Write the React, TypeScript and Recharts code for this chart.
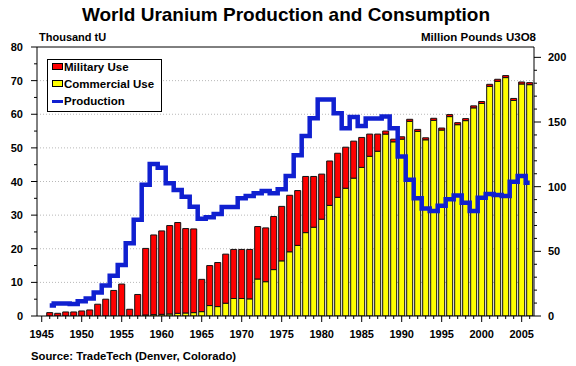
import React from 'react';
import {
  ComposedChart, Bar, Line, XAxis, YAxis, CartesianGrid, ReferenceLine, Legend,
} from 'recharts';

const years = [
  1946, 1947, 1948, 1949, 1950, 1951, 1952, 1953, 1954, 1955,
  1956, 1957, 1958, 1959, 1960, 1961, 1962, 1963, 1964, 1965,
  1966, 1967, 1968, 1969, 1970, 1971, 1972, 1973, 1974, 1975,
  1976, 1977, 1978, 1979, 1980, 1981, 1982, 1983, 1984, 1985,
  1986, 1987, 1988, 1989, 1990, 1991, 1992, 1993, 1994, 1995,
  1996, 1997, 1998, 1999, 2000, 2001, 2002, 2003, 2004, 2005, 2006,
];

// thousand tU
const commercialUse = [
  0, 0, 0, 0, 0, 0, 0, 0, 0, 0,
  0, 0, 0.3, 0.4, 0.5, 0.6, 0.8, 0.9, 1.0, 1.3,
  3.1, 2.8, 3.8, 5.2, 5.2, 5.1, 11.0, 10.2, 13.8, 16.4,
  19.1, 21.0, 24.8, 26.4, 28.8, 32.9, 35.3, 38.0, 41.0, 44.2,
  47.5, 49.0, 54.1, 51.8, 52.6, 57.9, 54.9, 52.4, 58.2, 55.3,
  59.3, 56.9, 58.1, 61.9, 63.2, 68.3, 69.8, 70.9, 64.1, 69.0, 68.8,
];

const militaryUse = [
  1.0, 0.8, 1.2, 1.2, 1.5, 1.8, 3.5, 5.0, 7.6, 9.5,
  2.0, 6.4, 19.8, 23.7, 24.8, 26.3, 27.0, 25.1, 24.9, 9.6,
  11.9, 13.1, 14.6, 14.6, 14.6, 14.7, 15.6, 16.0, 15.8, 16.2,
  16.8, 16.3, 16.7, 15.1, 13.4, 13.2, 13.1, 12.2, 11.0, 8.9,
  6.6, 5.1, 0.9, 0.8, 0.7, 0.6, 0.6, 0.6, 0.6, 0.6,
  0.6, 0.6, 0.6, 0.6, 0.6, 0.6, 0.6, 0.6, 0.6, 0.6, 0.6,
];

const production = [
  3.1, 3.7, 3.7, 3.6, 4.4, 5.2, 7.0, 9.1, 12.0, 15.2,
  21.6, 28.6, 39.0, 45.2, 44.1, 39.5, 37.5, 35.5, 32.5, 28.9,
  29.4, 30.3, 32.4, 32.4, 35.0, 35.7, 36.5, 37.2, 36.5, 37.7,
  41.6, 47.8, 53.5, 58.8, 64.4, 64.4, 60.3, 55.8, 59.2, 56.5,
  58.7, 58.7, 59.3, 55.8, 47.4, 40.5, 35.0, 32.0, 31.2, 32.8,
  34.7, 35.8, 33.7, 31.2, 35.2, 36.3, 36.0, 35.7, 39.9, 41.6, 39.6,
];

const xTicks = [
  1945, 1946, 1947, 1948, 1949, 1950, 1951, 1952, 1953, 1954, 1955, 1956, 1957, 1958, 1959,
  1960, 1961, 1962, 1963, 1964, 1965, 1966, 1967, 1968, 1969, 1970, 1971, 1972, 1973, 1974,
  1975, 1976, 1977, 1978, 1979, 1980, 1981, 1982, 1983, 1984, 1985, 1986, 1987, 1988, 1989,
  1990, 1991, 1992, 1993, 1994, 1995, 1996, 1997, 1998, 1999, 2000, 2001, 2002, 2003, 2004,
  2005, 2006,
];
const leftTicks = [0, 5, 10, 15, 20, 25, 30, 35, 40, 45, 50, 55, 60, 65, 70, 75, 80];
const rightTicks = [0, 10, 20, 30, 40, 50, 60, 70, 80, 90, 100, 110, 120, 130, 140, 150, 160, 170, 180, 190, 200];
const gridValues = [10, 20, 30, 40, 50, 60, 70];

const data = years.map((year, i) => ({
  year,
  commercial: commercialUse[i],
  military: militaryUse[i],
  production: production[i],
}));

const FONT = '"Liberation Sans", Arial, Helvetica, sans-serif';
const tickFont = { fontFamily: FONT, fontWeight: 700, fontSize: 11, fill: '#000' };

const LeftTick = ({ x, y, payload }: any) => {
  const major = payload.value % 10 === 0;
  return (
    <g>
      <line x1={x - (major ? 6 : 3)} x2={x} y1={y} y2={y} stroke="#000" />
      {major && <text x={x - 14} y={y} dy={4} textAnchor="end" style={tickFont}>{payload.value}</text>}
    </g>
  );
};

const RightTick = ({ x, y, payload }: any) => {
  const major = payload.value % 50 === 0;
  return (
    <g>
      <line x1={x} x2={x + (major ? 7 : 3)} y1={y} y2={y} stroke="#000" />
      {major && <text x={x + 14} y={y} dy={4} textAnchor="start" style={tickFont}>{payload.value}</text>}
    </g>
  );
};

const BottomTick = ({ x, y, payload }: any) => {
  const major = payload.value % 5 === 0;
  return (
    <g>
      <line x1={x} x2={x} y1={y} y2={y + (major ? 6 : 3)} stroke="#000" />
      {major && <text x={x} y={y + 22} textAnchor="middle" style={tickFont}>{payload.value}</text>}
    </g>
  );
};

const legendText = { fontFamily: FONT, fontWeight: 700, fontSize: 11.5, fill: '#000' };

const LegendBox = () => (
  <svg width={115} height={53} style={{ display: 'block' }}>
    <rect x={0.5} y={0.5} width={114} height={52} fill="#fff" stroke="#000" />
    <rect x={5.5} y={4.5} width={10} height={6} fill="#ff0000" stroke="#000" />
    <text x={17} y={12} style={legendText}>Military Use</text>
    <rect x={5.5} y={21.5} width={10} height={6} fill="#ffff00" stroke="#000" />
    <text x={17} y={29} style={legendText}>Commercial Use</text>
    <rect x={5} y={41} width={11} height={3} fill="#1020d0" />
    <text x={17} y={46} style={legendText}>Production</text>
  </svg>
);

export default function App() {
  return (
    <div style={{ position: 'absolute', left: 0, top: 0, width: 576, height: 366, background: '#fff' }}>
      <ComposedChart
        width={576}
        height={366}
        data={data}
        margin={{ top: 47, right: 0, bottom: 0, left: 0 }}
      >
        <CartesianGrid
          yAxisId="left"
          vertical={false}
          horizontalValues={gridValues}
          stroke="#b8b8b8"
          strokeDasharray="1 2"
        />
        <XAxis
          dataKey="year"
          type="number"
          domain={[1944.41, 2006.54]}
          allowDataOverflow
          ticks={xTicks}
          interval={0}
          height={50}
          tickSize={0}
          tickMargin={0}
          tickLine={false}
          axisLine={{ stroke: '#000' }}
          tick={<BottomTick />}
        />
        <YAxis
          yAxisId="left"
          domain={[0, 80]}
          allowDataOverflow
          ticks={leftTicks}
          interval={0}
          width={37}
          tickSize={0}
          tickMargin={0}
          tickLine={false}
          axisLine={{ stroke: '#000' }}
          tick={<LeftTick />}
        />
        <YAxis
          yAxisId="right"
          orientation="right"
          type="number"
          domain={[0, 208]}
          allowDataOverflow
          ticks={rightTicks}
          interval={0}
          width={42}
          tickSize={0}
          tickMargin={0}
          tickLine={false}
          axisLine={{ stroke: '#000' }}
          tick={<RightTick />}
        />
        <ReferenceLine yAxisId="left" y={80} stroke="#000" />
        <Bar yAxisId="left" dataKey="commercial" stackId="use" fill="#ffff00" stroke="#111" strokeWidth={1} barSize={6} isAnimationActive={false} />
        <Bar yAxisId="left" dataKey="military" stackId="use" fill="#ff0000" stroke="#111" strokeWidth={1} barSize={6} isAnimationActive={false} />
        <Line yAxisId="left" type="step" dataKey="production" stroke="#1020d0" strokeWidth={4.5} dot={false} isAnimationActive={false} />
        <Legend
          layout="horizontal"
          verticalAlign="middle"
          align="center"
          content={<LegendBox />}
          wrapperStyle={{ position: 'absolute', left: 47, top: 59, width: 115, height: 53 }}
        />
      </ComposedChart>
      <svg width={576} height={366} style={{ position: 'absolute', left: 0, top: 0, pointerEvents: 'none' }}>
        <text x={286} y={21} textAnchor="middle" style={{ fontFamily: FONT, fontWeight: 700, fontSize: 19 }}>
          World Uranium Production and Consumption
        </text>
        <text x={39} y={41} style={{ fontFamily: FONT, fontWeight: 700, fontSize: 11 }}>Thousand tU</text>
        <text x={536} y={41} textAnchor="end" style={{ fontFamily: FONT, fontWeight: 700, fontSize: 11.5 }}>Million Pounds U3O8</text>
        <text x={31} y={360} style={{ fontFamily: FONT, fontWeight: 700, fontSize: 11.3 }}>Source: TradeTech (Denver, Colorado)</text>
      </svg>
    </div>
  );
}
